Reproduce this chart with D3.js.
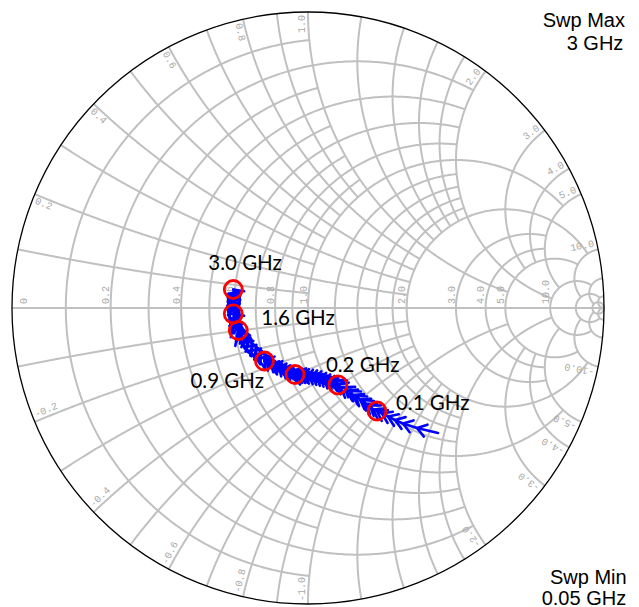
<!DOCTYPE html>
<html><head><meta charset="utf-8">
<script src="https://cdn.jsdelivr.net/npm/d3@7"></script>
<style>body{margin:0;background:#fff} svg{display:block}</style>
</head><body><svg id="c" width="639" height="607"></svg>
<script>
// ---------------- data ----------------
// resistance circles and the |x| up to which each is drawn
const rValues = [0.1,0.2,0.3,0.4,0.5,0.6,0.7,0.8,0.9,1.0,1.2,1.4,1.6,1.8,2,3,4,5,10,20,50];
const rLimits = [1,2,1,2,1,2,1,2,1,5,2,2,2,2,10,5,5,10,20,50,Infinity];
// reactance arcs and the r up to which each is drawn
const xValues = [0.1,0.2,0.3,0.4,0.5,0.6,0.7,0.8,0.9,1.0,1.2,1.4,1.6,1.8,2,3,4,5,10,20,50];
const xLimits = [1,2,1,2,1,2,1,2,1,5,2,2,2,2,10,5,5,10,20,50,Infinity];
// tick labels
const axisLabels = ["0","0.2","0.4","0.6","0.8","1.0","2.0","3.0","4.0","5.0","10.0"];
const arcLabels = ["0.2","0.4","0.6","0.8","1.0","2.0","3.0","4.0","5.0","10.0"];
// measured S-parameter trace (0.05 GHz -> 3 GHz), reflection coefficient
const traceRe = [0.4392,0.3682,0.3209,0.2939,0.2703,0.2500,0.2331,
 0.220,0.209,0.196,0.186,0.176,0.162,0.152,0.142,0.132,0.122,0.111,0.101,
 0.0946,0.0878,0.0811,0.0743,0.0676,0.0608,0.0541,0.0473,0.0405,0.0338,0.0270,0.0203,0.0135,0.0068,0.0,
 -0.0068,-0.0135,-0.0203,-0.0270,-0.0338,-0.0405,-0.0439,
 -0.0507,-0.0574,-0.0642,-0.0709,-0.0777,-0.0845,-0.0912,-0.0980,-0.1047,-0.1115,-0.1182,-0.1250,-0.1318,-0.1385,-0.1470,
 -0.1459,-0.1682,-0.1595,-0.1818,-0.1730,-0.1953,-0.1865,-0.2105,-0.2003,-0.2213,-0.2108,-0.2311,-0.2203,-0.2399,-0.2355,
 -0.2247,-0.2534,-0.2287,-0.2578,-0.2331,-0.2618,-0.2365,-0.2524,
 -0.2348,-0.2703,-0.2331,-0.2720,-0.2314,-0.2703,-0.2297,-0.2703,-0.2297,-0.2686,-0.2331,-0.2524];
const traceIm = [-0.4223,-0.4054,-0.3902,-0.3784,-0.3666,-0.3564,-0.3480,
 -0.343,-0.329,-0.324,-0.311,-0.309,-0.296,-0.294,-0.280,-0.280,-0.267,-0.269,-0.260,
 -0.2493,-0.2618,-0.2459,-0.2568,-0.2405,-0.2534,-0.2365,-0.2490,-0.2307,-0.2449,-0.2280,-0.2416,-0.2257,-0.2392,-0.2236,
 -0.2372,-0.2220,-0.2355,-0.2203,-0.2338,-0.2189,-0.2247,
 -0.2297,-0.2125,-0.2253,-0.2074,-0.2206,-0.2014,-0.2142,-0.1946,-0.2071,-0.1878,-0.1993,-0.1807,-0.1932,-0.1743,-0.1791,
 -0.1655,-0.1723,-0.1520,-0.1588,-0.1385,-0.1453,-0.1250,-0.1318,-0.1115,-0.1182,-0.0980,-0.1047,-0.0845,-0.0912,-0.0760,
 -0.0693,-0.0625,-0.0557,-0.0490,-0.0422,-0.0355,-0.0287,-0.0196,
 -0.0128,-0.0061,0.0007,0.0074,0.0142,0.0209,0.0277,0.0345,0.0412,0.0480,0.0547,0.0625];
// markers
const markerRe = [0.2331,0.101,-0.0439,-0.1470,-0.2355,-0.2524,-0.2524];
const markerIm = [-0.3480,-0.260,-0.2247,-0.1791,-0.0760,-0.0196,0.0625];
const markerText = ["0.1 GHz","0.2 GHz","","0.9 GHz","","1.6 GHz","3.0 GHz"];
const sweepText = [["Swp Max","3 GHz"],["Swp Min","0.05 GHz"]];

// ---------------- layout ----------------
const svg = d3.select("#c");
const sx = d3.scaleLinear().domain([-1,1]).range([12,604]);
const sy = d3.scaleLinear().domain([-1,1]).range([604,12]);
const line = d3.line().x(d=>sx(d[0])).y(d=>sy(d[1]));
const gridColor = "#c0c0c0";
const gamma = (r,x)=>{const den=(r+1)*(r+1)+x*x; return [(r*r+x*x-1)/den, 2*x/den];};
const norm = a => { while(a<0) a+=2*Math.PI; while(a>=2*Math.PI) a-=2*Math.PI; return a; };

const gGrid = svg.append("g").attr("fill","none").attr("stroke",gridColor).attr("stroke-width",2);
// resistance circles
rValues.forEach((r,i)=>{
  const X = rLimits[i], c = r/(1+r), a = 1/(1+r);
  let a0 = 0;
  if (isFinite(X)) { const g = gamma(r,X); a0 = Math.atan2(g[1], g[0]-c); }
  const pts = d3.range(0,401).map(k=>{const t=a0+(2*Math.PI-2*a0)*k/400; return [c+a*Math.cos(t), a*Math.sin(t)];});
  gGrid.append("path").attr("d", line(pts));
});
// reactance arcs
xValues.forEach((x,i)=>{
  const R = xLimits[i], cy = 1/x, rad = 1/x;
  const g0 = gamma(0,x);
  const b0 = norm(Math.atan2(g0[1]-cy, g0[0]-1));
  let b1 = 1.5*Math.PI;
  if (isFinite(R)) { const g1 = gamma(R,x); b1 = norm(Math.atan2(g1[1]-cy, g1[0]-1)); }
  const pts = d3.range(0,301).map(k=>{const t=b0+(b1-b0)*k/300; return [1+rad*Math.cos(t), cy+rad*Math.sin(t)];});
  gGrid.append("path").attr("d", line(pts));
  gGrid.append("path").attr("d", line(pts.map(p=>[p[0],-p[1]])));
});
// real axis
gGrid.append("path").attr("d", line([[-1,0],[1,0]]));

// outer circle
svg.append("circle").attr("cx",sx(0)).attr("cy",sy(0)).attr("r",sx(1)-sx(0))
  .attr("fill","none").attr("stroke","#000").attr("stroke-width",1.3);

// grid labels
const gl = svg.append("g").attr("fill","#a8a8a8").attr("font-family","Liberation Mono, DejaVu Sans Mono, monospace").attr("font-size",10);
axisLabels.forEach(s=>{
  const r = +s, g = (r-1)/(r+1);
  const tx = r===0 ? sx(g)+14.5 : sx(g)-1.5;
  gl.append("text").attr("transform",`translate(${tx},${sy(0)-4}) rotate(-90)`).text(s);
});
arcLabels.forEach(s=>{
  [1,-1].forEach(sg=>{
    const xv = +s*sg;
    const th = Math.PI - 2*Math.atan(Math.abs(xv));
    const t = sg>0 ? th : -th;
    const outward = sg>0 && th <= Math.PI/2 + 1e-9;
    const txt = sg>0 ? s : "-"+s;
    const ex = sx(Math.cos(t)), ey = sy(Math.sin(t));
    const inX = -Math.cos(t), inY = Math.sin(t);
    const len = txt.length*6;
    const d = 3 + len/2;
    const sX = sg>0 ? -Math.sin(t) : Math.sin(t), sY = sg>0 ? -Math.cos(t) : Math.cos(t);
    const off = 6;
    const px = ex + inX*d + sX*off, py = ey + inY*d + sY*off;
    const rot = outward ? -t*180/Math.PI : 180 - t*180/Math.PI;
    gl.append("text").attr("transform",`translate(${px},${py}) rotate(${rot})`)
      .attr("text-anchor","middle").attr("dominant-baseline","central").text(txt);
  });
});

// trace
const trace = traceRe.map((v,i)=>[v, traceIm[i]]);
const gT = svg.append("g").attr("fill","none").attr("stroke","#0000ff").attr("stroke-width",2.6).attr("stroke-linejoin","round").attr("stroke-linecap","round");
gT.append("path").attr("d", line(trace));
const n = trace.length;
trace.forEach((p,i)=>{
  if (i===0) return;
  const a = trace[Math.max(0,i-3)], b = trace[Math.min(n-1,i+2)];
  const dx = sx(b[0])-sx(a[0]), dy = sy(b[1])-sy(a[1]);
  const ang = Math.atan2(dy,dx), L = 11, h = 0.6;
  const tx = sx(p[0]), ty = sy(p[1]);
  const p1 = [tx - L*Math.cos(ang-h), ty - L*Math.sin(ang-h)];
  const p2 = [tx - L*Math.cos(ang+h), ty - L*Math.sin(ang+h)];
  gT.append("path").attr("d", `M${p1[0]},${p1[1]}L${tx},${ty}L${p2[0]},${p2[1]}`);
});

// markers
const labelOffsets = [[19,-1],[-12,-13],[0,0],[-74,27],[0,0],[28,11],[-25,-19.5]];
markerRe.forEach((v,i)=>{
  svg.append("circle").attr("cx",sx(v)).attr("cy",sy(markerIm[i])).attr("r",9)
    .attr("fill","none").attr("stroke","#ff0000").attr("stroke-width",2.8);
});
markerRe.forEach((v,i)=>{
  if(!markerText[i]) return;
  svg.append("text").attr("x",sx(v)+labelOffsets[i][0]).attr("y",sy(markerIm[i])+labelOffsets[i][1])
    .attr("font-family","Gill Sans, Gill Sans MT, Lato, sans-serif").attr("font-size",20.5)
    .attr("fill","#000").text(markerText[i]);
});

// sweep texts
const sw = svg.append("g").attr("font-family","Liberation Sans, Arial, sans-serif").attr("font-size",20).attr("fill","#000");
const swPos = [[[542.7,27.3],[566.7,50]],[[550,583.5],[541.7,604.5]]];
sweepText.forEach((lines,i)=>lines.forEach((t,j)=>{
  sw.append("text").attr("x",swPos[i][j][0]).attr("y",swPos[i][j][1]).text(t);
}));
</script></body></html>
